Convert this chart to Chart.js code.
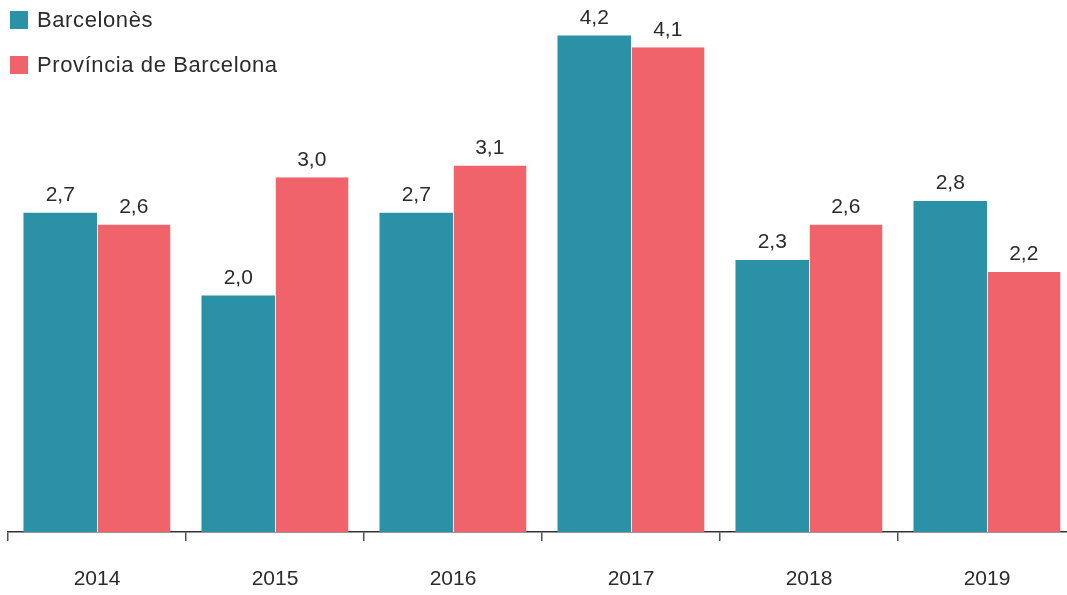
<!DOCTYPE html>
<html lang="ca">
<head>
  <meta charset="UTF-8">
  <title>Barcelonès vs Província de Barcelona</title>
  <script src="https://cdn.jsdelivr.net/npm/chart.js"></script>
  <style>
    html, body { margin: 0; padding: 0; background: #fff; overflow: hidden; }
    #wrap { position: relative; width: 1080px; height: 595px; }
    .legend { position: absolute; left: 10px; top: 0; font-family: "Liberation Sans", Arial, sans-serif; font-size: 22px; letter-spacing: 0.6px; color: #2b2b2b; }
    .legend div { display: flex; align-items: center; height: 22px; margin-top: 9px; margin-bottom: 23px; }
    .legend span.box { display: inline-block; width: 18px; height: 18px; margin-right: 9px; }
  </style>
</head>
<body>
  <div id="wrap">
    <canvas id="chart" width="1080" height="595"></canvas>
    <div class="legend" id="legend"></div>
  </div>

  <script>
    const years = ['2014', '2015', '2016', '2017', '2018', '2019'];
    const barcelones = [2.7, 2.0, 2.7, 4.2, 2.3, 2.8];
    const provincia = [2.6, 3.0, 3.1, 4.1, 2.6, 2.2];
    const seriesNames = ['Barcelonès', 'Província de Barcelona'];
    const colors = ['#2b91a6', '#f0636b'];

    // legend as plain html, sits over the chart top-left
    document.getElementById('legend').innerHTML = seriesNames.map((n, i) =>
      `<div><span class="box" style="background:${colors[i]}"></span>${n}</div>`).join('');

    // values over the bars, with decimal comma
    const valueLabels = {
      id: 'valueLabels',
      afterDatasetsDraw(chart) {
        const ctx = chart.ctx;
        ctx.save();
        ctx.font = '21px "Liberation Sans", Arial, sans-serif';
        ctx.fillStyle = '#2b2b2b';
        ctx.textAlign = 'center';
        ctx.textBaseline = 'bottom';
        chart.data.datasets.forEach((ds, di) => {
          chart.getDatasetMeta(di).data.forEach((bar, i) => {
            ctx.fillText(ds.data[i].toFixed(1).replace('.', ','), bar.x, bar.y - 7);
          });
        });
        ctx.restore();
      }
    };

    new Chart(document.getElementById('chart'), {
      type: 'bar',
      data: {
        labels: years,
        datasets: [
          { label: seriesNames[0], data: barcelones, backgroundColor: colors[0] },
          { label: seriesNames[1], data: provincia, backgroundColor: colors[1],
            borderColor: '#fbe3e5', borderWidth: { left: 1 }, borderSkipped: 'bottom' }
        ]
      },
      options: {
        responsive: false,
        animation: false,
        events: [],
        layout: { padding: { left: 8, right: 4, top: 0, bottom: 0 } },
        datasets: { bar: { categoryPercentage: 0.826, barPercentage: 1 } },
        plugins: { legend: { display: false }, tooltip: { enabled: false } },
        scales: {
          y: { display: false, min: 0, max: 4.5 },
          x: {
            afterFit(scale) { scale.height = 63; },
            border: { display: true, color: '#333', width: 1.5 },
            grid: { offset: true, drawOnChartArea: false, tickLength: 9, color: '#555', lineWidth: 1.5 },
            ticks: { padding: 26, color: '#2b2b2b', font: { family: '"Liberation Sans", Arial, sans-serif', size: 21 } }
          }
        }
      },
      plugins: [valueLabels]
    });
  </script>
</body>
</html>
